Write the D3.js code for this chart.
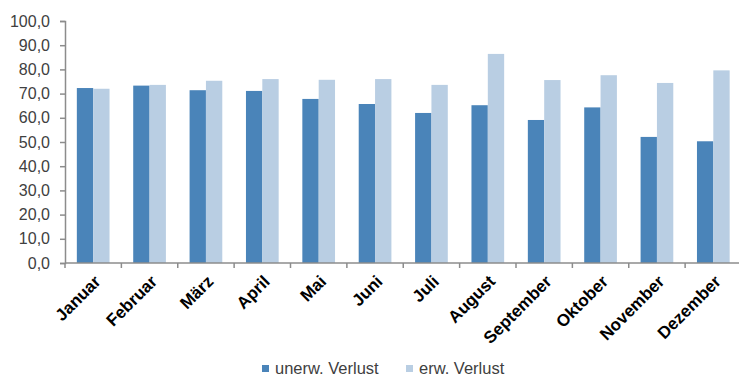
<!DOCTYPE html>
<html lang="de">
    <head>
        <meta charset="UTF-8">
        <title>Verlust</title>
        <style>
            body { margin: 0; background: #fff; }
            svg { display: block; font-family: "Liberation Sans", Arial, sans-serif; }
        </style>
    </head>
    <script src="https://cdn.jsdelivr.net/npm/d3@7"></script>
    <body>
        <svg width="739" height="376"></svg>
    </body>

    <script>
    var months = ["Januar", "Februar", "März", "April", "Mai", "Juni", "Juli", "August", "September", "Oktober", "November", "Dezember"];
    var seriesNames = ["unerw. Verlust", "erw. Verlust"];
    var unerwVerlust = [72.3, 73.3, 71.4, 71.1, 67.8, 65.7, 62.0, 65.2, 59.1, 64.3, 52.1, 50.3];
    var erwVerlust = [72.0, 73.6, 75.3, 76.0, 75.7, 76.0, 73.6, 86.4, 75.6, 77.6, 74.4, 79.6];
    var yTicks = [0, 10, 20, 30, 40, 50, 60, 70, 80, 90, 100];
    var colors = ["#4a84b9", "#b9cee3"];

    var rows = months.map(function(m, i) {
        return { month: m, values: [unerwVerlust[i], erwVerlust[i]] };
    });

    var svg = d3.select("svg");

    // Scale Linear
    var y = d3.scaleLinear()
        .domain([0, 100])
        .range([263, 21]);

    // Scale Band for months
    var x = d3.scaleBand()
        .domain(months)
        .range([65, 741.5])
        .padding(0);

    // inner band for the two series
    var x1 = d3.scaleBand()
        .domain([0, 1])
        .range([x.bandwidth() * 0.21, x.bandwidth() * 0.79])
        .padding(0);

    var color = d3.scaleOrdinal()
        .domain([0, 1])
        .range(colors);

    // bars
    var groups = svg.append("g").selectAll("g")
        .data(rows)
        .join("g")
        .attr("transform", function(d){ return "translate(" + x(d.month) + ",0)"; });

    groups.selectAll("rect")
        .data(function(d){ return d.values.map(function(v, i){ return { i: i, v: v }; }); })
        .join("rect")
        .attr("x", function(d){ return x1(d.i); })
        .attr("width", x1.bandwidth())
        .attr("y", function(d){ return y(d.v); })
        .attr("height", function(d){ return y(0) - y(d.v); })
        .attr("fill", function(d){ return color(d.i); });

    // y axis
    var yAxis = svg.append("g")
        .attr("transform", "translate(65,0)")
        .call(d3.axisLeft(y)
            .tickValues(yTicks)
            .tickSize(5)
            .tickPadding(10)
            .tickFormat(function(d){ return d3.format(".1f")(d).replace(".", ","); }));
    yAxis.select(".domain").attr("stroke", "#8c8c8c").attr("stroke-width", 1.5);
    yAxis.selectAll(".tick line").attr("stroke", "#8c8c8c").attr("stroke-width", 1.5);
    yAxis.selectAll(".tick text")
        .attr("fill", "#404040")
        .style("font-size", "16px")
        .style("font-family", "Liberation Sans, Arial, sans-serif");

    // x axis, ticks between categories
    var xAxis = svg.append("g").attr("transform", "translate(0," + y(0) + ")");
    xAxis.append("line")
        .attr("x1", 65).attr("x2", 741.5)
        .attr("stroke", "#8c8c8c").attr("stroke-width", 1.5);
    xAxis.selectAll(".xt")
        .data(months)
        .join("line")
        .attr("class", "xt")
        .attr("x1", function(d){ return x(d); })
        .attr("x2", function(d){ return x(d); })
        .attr("y1", 0).attr("y2", 5)
        .attr("stroke", "#8c8c8c").attr("stroke-width", 1.5);
    xAxis.selectAll(".xl")
        .data(months)
        .join("text")
        .attr("class", "xl")
        .attr("text-anchor", "end")
        .attr("transform", function(d){
            return "translate(" + (x(d) + x.bandwidth() / 2) + ",11) rotate(-45)";
        })
        .attr("dy", "0.71em")
        .attr("fill", "#000")
        .style("font-size", "17px")
        .style("font-weight", "bold")
        .text(function(d){ return d; });

    // legend
    var legendX = [262, 406];
    var legend = svg.append("g").selectAll("g")
        .data(seriesNames)
        .join("g")
        .attr("transform", function(d, i){ return "translate(" + legendX[i] + ",365)"; });
    legend.append("rect")
        .attr("width", 7).attr("height", 7)
        .attr("fill", function(d, i){ return colors[i]; });
    legend.append("text")
        .attr("x", 13)
        .attr("y", 9)
        .attr("fill", "#404040")
        .style("font-size", "16.5px")
        .text(function(d){ return d; });
    </script>
</html>
